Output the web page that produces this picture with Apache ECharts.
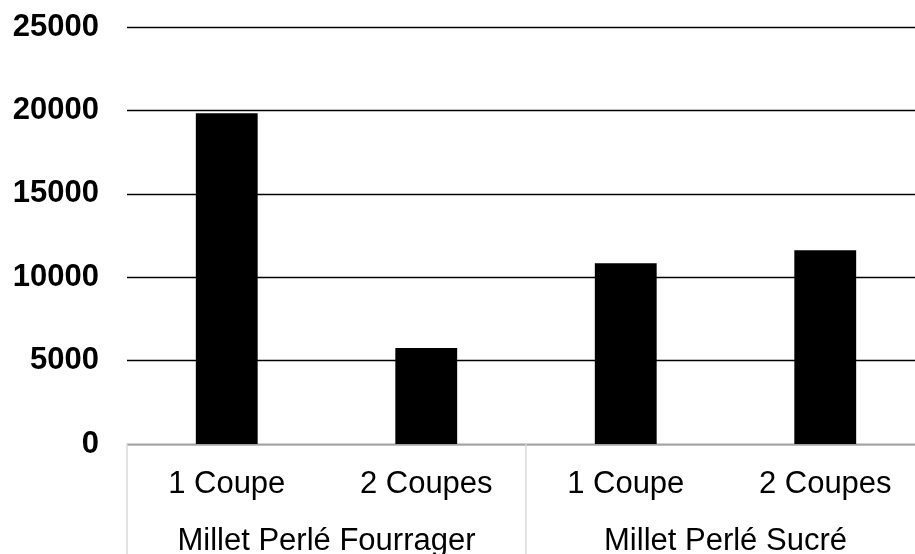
<!DOCTYPE html>
<html>
<head>
<meta charset="utf-8">
<style>
  html, body { margin: 0; padding: 0; background: #fff; }
  #chart { width: 915px; height: 554px; }
</style>
<script src="https://cdn.jsdelivr.net/npm/echarts@6/dist/echarts.min.js"></script>
</head>
<body>
<div id="chart"></div>
<script>
// Cutting regime (inner level) and crop variety (outer level)
const cuts = ['1 Coupe', '2 Coupes', '1 Coupe', '2 Coupes'];
const varieties = ['Millet Perlé Fourrager', 'Millet Perlé Sucré'];
const yields = [19830, 5750, 10840, 11620];
const yTicks = { min: 0, max: 25000, step: 5000 };

const chart = echarts.init(document.getElementById('chart'), null, { renderer: 'canvas' });

const font = '"Liberation Sans", Arial, Helvetica, sans-serif';

chart.setOption({
  animation: false,
  backgroundColor: '#ffffff',
  // plot area runs slightly past the right edge of the canvas
  grid: {
    left: 127, width: 798, top: 27, bottom: 110,
    containLabel: false,
    outerBoundsMode: 'none'
  },
  xAxis: [
    {
      type: 'category',
      data: cuts,
      position: 'bottom',
      axisLine: { show: true, lineStyle: { color: '#d9d9d9', width: 1.5 } },
      axisTick: { show: false },
      axisLabel: {
        interval: 0,
        margin: 25,
        color: '#000',
        fontFamily: font,
        fontSize: 31
      },
      splitLine: { show: false }
    },
    {
      type: 'category',
      data: varieties,
      position: 'bottom',
      offset: 0,
      axisLine: { show: false },
      axisTick: {
        show: true,
        interval: 0,
        alignWithLabel: false,
        length: 112,
        lineStyle: { color: '#d9d9d9', width: 1.5 }
      },
      axisLabel: {
        interval: 0,
        margin: 82,
        color: '#000',
        fontFamily: font,
        fontSize: 31
      },
      splitLine: { show: false }
    }
  ],
  yAxis: {
    type: 'value',
    min: yTicks.min,
    max: yTicks.max,
    interval: yTicks.step,
    axisLine: { show: false },
    axisTick: { show: false },
    axisLabel: {
      margin: 28,
      color: '#000',
      fontFamily: font,
      fontWeight: 'bold',
      fontSize: 31,
      formatter: (v) => String(v)
    },
    splitLine: { show: true, lineStyle: { color: '#000', width: 1.4 } }
  },
  series: [
    {
      type: 'bar',
      xAxisIndex: 0,
      data: yields,
      barWidth: '31%',
      itemStyle: { color: '#000000' }
    }
  ]
});
</script>
</body>
</html>
